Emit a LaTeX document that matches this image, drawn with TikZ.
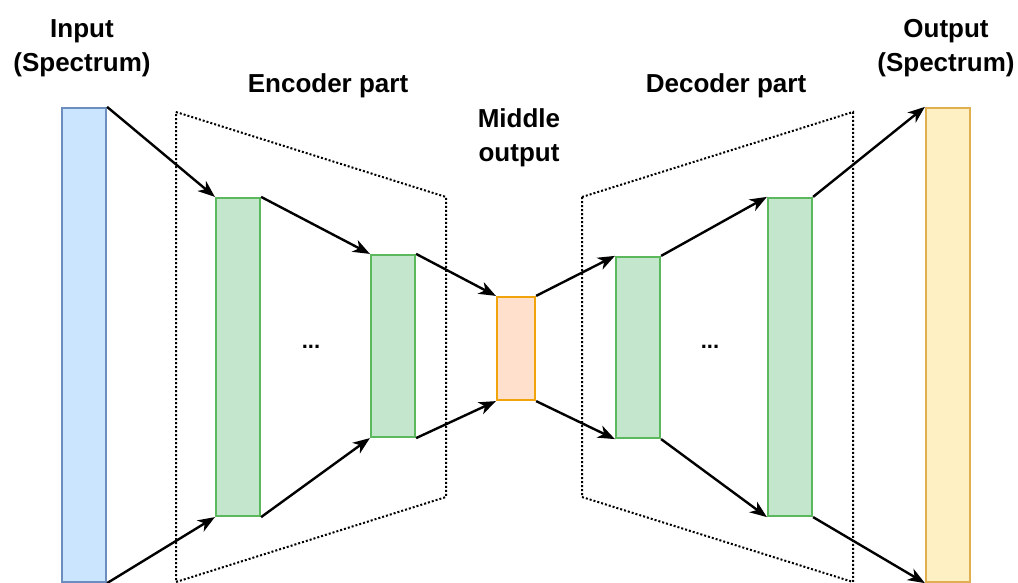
\documentclass[tikz,border=0pt]{standalone}
\usepackage{fontspec}
\setmainfont{Liberation Sans}
\usetikzlibrary{arrows.meta}

\definecolor{inFill}{HTML}{CCE5FF}
\definecolor{inLine}{HTML}{6C8EBF}
\definecolor{layFill}{HTML}{C4E6CC}
\definecolor{layLine}{HTML}{5CB85C}
\definecolor{midFill}{HTML}{FFE0CC}
\definecolor{midLine}{HTML}{F0A30A}
\definecolor{outFill}{HTML}{FFF0C4}
\definecolor{outLine}{HTML}{E0B050}

\tikzset{
  bar/.style={rectangle, inner sep=0pt, line width=2.2pt, minimum width=44pt},
  lbl/.style={font=\fontsize{26}{34}\selectfont\bfseries, align=center},
  frame/.style={dash pattern=on 2pt off 2pt, line width=2pt},
  link/.style={->, line width=2.4pt}
}

\begin{document}
\begin{tikzpicture}[x=1pt,y=-1pt,>={Stealth[length=17pt,width=13pt,inset=5pt]}]
\useasboundingbox (0,0) rectangle (1018,583);
% dotted frames
\draw[frame] (176,112) -- (446,197) -- (446,497) -- (176,582) -- cycle;
\draw[frame] (582,197) -- (853,112) -- (853,582) -- (582,497) -- cycle;
% layers
\node[bar,draw=inLine,fill=inFill,minimum height=474pt] (input) at (84,345) {};
\node[bar,draw=layLine,fill=layFill,minimum height=318pt] (enc1) at (238,357) {};
\node[bar,draw=layLine,fill=layFill,minimum height=182pt] (enc2) at (393,346) {};
\node[bar,draw=midLine,fill=midFill,minimum width=38pt,minimum height=103pt] (mid) at (516,348.5) {};
\node[bar,draw=layLine,fill=layFill,minimum height=181pt] (dec1) at (638,347.5) {};
\node[bar,draw=layLine,fill=layFill,minimum height=318pt] (dec2) at (790,357) {};
\node[bar,draw=outLine,fill=outFill,minimum height=474pt] (output) at (948,345) {};
% labels
\node[lbl] (inlbl) at (82,48) {Input\\(Spectrum)};
\node[lbl] (enclbl) at (328,86) {Encoder part};
\node[lbl] (midlbl) at (519,138) {Middle\\output};
\node[lbl] (declbl) at (726,86) {Decoder part};
\node[lbl] (outlbl) at (946,48) {Output\\(Spectrum)};
\node[lbl,font=\fontsize{22}{26}\selectfont\bfseries] (encdots) at (311,347) {...};
\node[lbl,font=\fontsize{22}{26}\selectfont\bfseries] (decdots) at (710,347) {...};
% connections
\path[link](input.north east) edge (enc1.north west);
\path[link](input.south east) edge (enc1.south west);
\path[link](enc1.north east) edge (enc2.north west);
\path[link](enc1.south east) edge (enc2.south west);
\path[link](enc2.north east) edge (mid.north west);
\path[link](enc2.south east) edge (mid.south west);
\path[link](mid.north east) edge (dec1.north west);
\path[link](mid.south east) edge (dec1.south west);
\path[link](dec1.north east) edge (dec2.north west);
\path[link](dec1.south east) edge (dec2.south west);
\path[link](dec2.north east) edge (output.north west);
\path[link](dec2.south east) edge (output.south west);
\end{tikzpicture}
\end{document}
